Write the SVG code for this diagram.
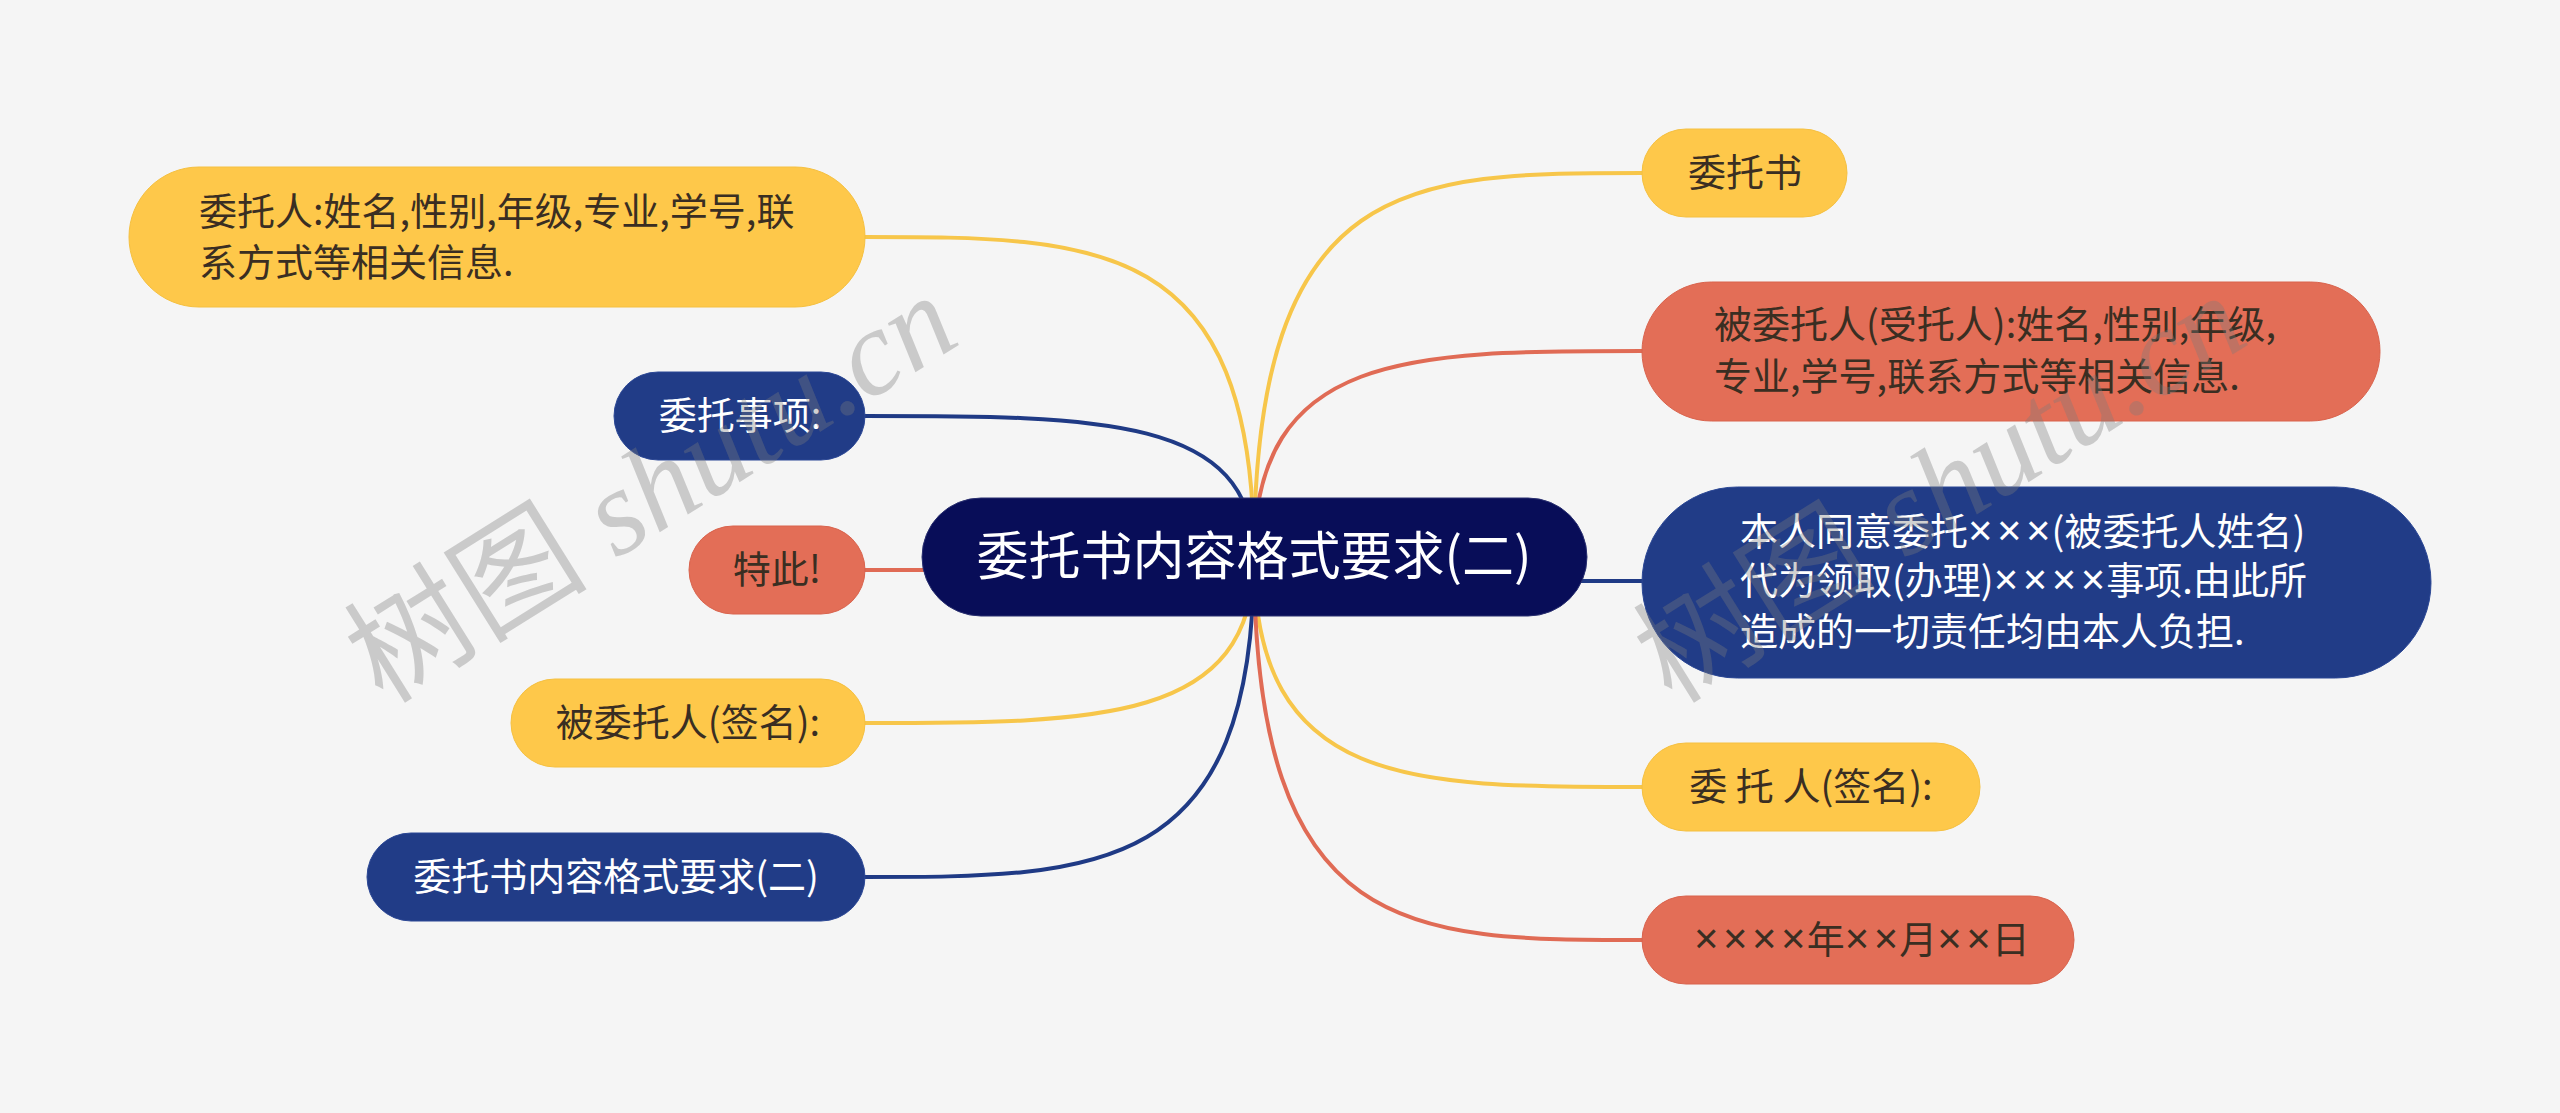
<svg xmlns="http://www.w3.org/2000/svg" width="2560" height="1113" viewBox="0 0 2560 1113">
<style>
.bg{fill:#F5F5F5}
.t{font-family:"Noto Sans CJK SC","Noto Sans",sans-serif;font-size:38px}
.x{font-family:"Liberation Sans",sans-serif;font-size:42px;letter-spacing:4.5px}
.x0{font-family:"Liberation Sans",sans-serif;font-size:42px;letter-spacing:1px}
.dk{fill:#3A2E22}
.wt{fill:#FFFFFF}
.yel{fill:#FEC84A;stroke:#F5C040;stroke-width:1}
.org{fill:#E36E57;stroke:#D9634D;stroke-width:1}
.nav{fill:#213C87;stroke:#2B4795;stroke-width:1}
.root{fill:#080D58;stroke:#2A3070;stroke-width:1}
.c{fill:none;stroke-width:4;stroke-linecap:round}
.cy{stroke:#F7C64A}
.co{stroke:#E06B55}
.cn{stroke:#1F3A85}
.wm{font-family:"Liberation Serif","Noto Sans CJK SC",serif;font-size:122px;fill:#7A7A7A;fill-opacity:0.35}
</style>
<rect class="bg" x="0" y="0" width="2560" height="1113"/>
<g id="connectors">
<path class="c cy" d="M1254 557 C1254 237 1098 237 865 237"/>
<path class="c cn" d="M1254 557 C1254 416 1098 416 865 416"/>
<path class="c co" d="M1254 557 C1254 570 1098 570 865 570"/>
<path class="c cy" d="M1254 557 C1254 723 1098 723 865 723"/>
<path class="c cn" d="M1254 557 C1254 877 1098 877 865 877"/>
<path class="c cy" d="M1254 557 C1254 173 1410 173 1642 173"/>
<path class="c co" d="M1254 557 C1254 351 1410 351 1642 351"/>
<path class="c cn" d="M1254 557 C1254 581 1410 581 1642 581"/>
<path class="c cy" d="M1254 557 C1254 787 1410 787 1642 787"/>
<path class="c co" d="M1254 557 C1254 940 1410 940 1642 940"/>
</g>
<g id="root">
<rect class="root" x="922" y="498" width="665" height="118" rx="59"/>
<text class="t wt" x="1254" y="575" text-anchor="middle" style="font-size:52px">委托书内容格式要求(二)</text>
</g>
<g id="n-weituoren">
<rect class="yel" x="129" y="167" width="736" height="140" rx="70"/>
<text class="t dk" x="199" y="225">委托人:姓名,性别,年级,专业,学号,联</text>
<text class="t dk" x="199" y="276">系方式等相关信息.</text>
</g>
<g id="n-shixiang">
<rect class="nav" x="614" y="372" width="251" height="88" rx="44"/>
<text class="t wt" x="740" y="429" text-anchor="middle">委托事项:</text>
</g>
<g id="n-teci">
<rect class="org" x="689" y="526" width="176" height="88" rx="44"/>
<text class="t dk" x="777" y="583" text-anchor="middle">特此!</text>
</g>
<g id="n-beiweituo-sign">
<rect class="yel" x="511" y="679" width="354" height="88" rx="44"/>
<text class="t dk" x="688" y="736" text-anchor="middle">被委托人(签名):</text>
</g>
<g id="n-title2">
<rect class="nav" x="367" y="833" width="498" height="88" rx="44"/>
<text class="t wt" x="616" y="890" text-anchor="middle">委托书内容格式要求(二)</text>
</g>
<g id="n-weituoshu">
<rect class="yel" x="1642" y="129" width="205" height="88" rx="44"/>
<text class="t dk" x="1745" y="186" text-anchor="middle">委托书</text>
</g>
<g id="n-beiweituoren">
<rect class="org" x="1642" y="282" width="738" height="139" rx="69.5"/>
<text class="t dk" x="1714" y="338">被委托人(受托人):姓名,性别,年级,</text>
<text class="t dk" x="1714" y="390">专业,学号,联系方式等相关信息.</text>
</g>
<g id="n-benren">
<rect class="nav" x="1642" y="487" width="789" height="191" rx="95.5"/>
<text class="t wt" x="1740" y="545">本人同意委托<tspan class="x">××</tspan><tspan class="x0">×</tspan>(被委托人姓名)</text>
<text class="t wt" x="1740" y="594">代为领取(办理)<tspan class="x">×××</tspan><tspan class="x0">×</tspan>事项.由此所</text>
<text class="t wt" x="1740" y="645">造成的一切责任均由本人负担.</text>
</g>
<g id="n-weituoren-sign">
<rect class="yel" x="1642" y="743" width="338" height="88" rx="44"/>
<text class="t dk" x="1811" y="800" text-anchor="middle">委 托 人(签名):</text>
</g>
<g id="n-date">
<rect class="org" x="1642" y="896" width="432" height="88" rx="44"/>
<text class="t dk" x="1694" y="953"><tspan class="x">×××</tspan><tspan class="x0">×</tspan>年<tspan class="x">×</tspan><tspan class="x0">×</tspan>月<tspan class="x">×</tspan><tspan class="x0">×</tspan>日</text>
</g>
<g id="watermark">
<text class="wm" x="383" y="705" transform="rotate(-32 383 705)">树图 <tspan font-style="italic">shutu.cn</tspan></text>
<text class="wm" x="1672" y="705" transform="rotate(-32 1672 705)">树图 <tspan font-style="italic">shutu.cn</tspan></text>
</g>
</svg>
